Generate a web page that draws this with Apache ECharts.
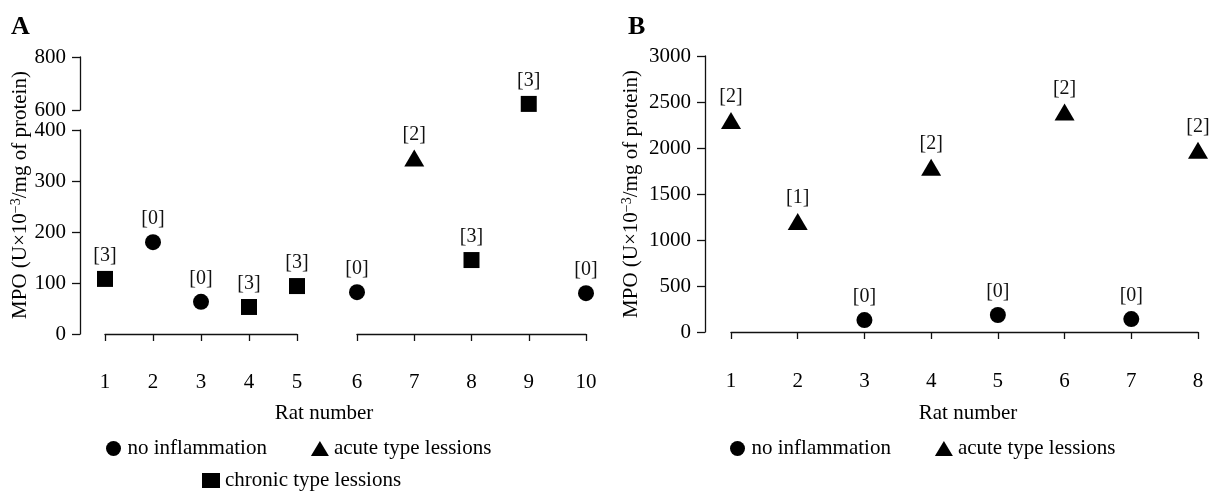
<!DOCTYPE html>
<html><head><meta charset="utf-8">
<script src="https://cdn.jsdelivr.net/npm/echarts@6/dist/echarts.min.js"></script>
<style>html,body{margin:0;padding:0;background:#fff}#c{width:1224px;height:493px}</style>
</head><body><div id="c"></div>
<script>
// ---- data: panel A ----
const ratsA  = [1, 2, 3, 4, 5, 6, 7, 8, 9, 10];
const mpoA   = [108, 180, 63, 53, 94, 82, 345, 145, 623, 80];
const typeA  = ['chronic','none','none','chronic','chronic','none','acute','chronic','chronic','none'];
const gradeA = ['[3]','[0]','[0]','[3]','[3]','[0]','[2]','[3]','[3]','[0]'];
// ---- data: panel B ----
const ratsB  = [1, 2, 3, 4, 5, 6, 7, 8];
const mpoB   = [2300, 1200, 130, 1790, 185, 2390, 140, 1975];
const typeB  = ['acute','acute','none','acute','none','acute','none','acute'];
const gradeB = ['[2]','[1]','[0]','[2]','[0]','[2]','[0]','[2]'];
// ---- names / axis ranges ----
const typeNames = {none:'no inflammation', acute:'acute type lessions', chronic:'chronic type lessions'};
const yTitle = 'MPO (U×10{sup|−3}/mg of protein)';
const xTitle = 'Rat number';
const yRangeALow = [0, 400, 100];
const yRangeAHigh = [600, 800, 200];
const yRangeB = [0, 3000, 500];
const xSegA1 = [1, 5];
const xSegA2 = [6, 10];
const xRangeB = [1, 8];

const F = 'Liberation Serif';
const INK = '#111';
const FS = 21;
const typeSymbols = {none:'circle', acute:'triangle', chronic:'rect'};
const typeSizes = {none:16, acute:[20,17], chronic:16};
const lineStyle = {color: INK, width: 1.3};

function yAx(grid, r, offset, show) {
  return {gridIndex:grid, type:'value', min:r[0], max:r[1], interval:r[2], offset:offset, show:show,
    axisLine:{show:true, lineStyle}, axisTick:{show:true, length:8, lineStyle},
    axisLabel:{fontFamily:F, fontSize:FS, color:'#000', margin:14, formatter:v=>String(v)}, splitLine:{show:false}};
}
function xAx(grid, r, offset, show) {
  return {gridIndex:grid, type:'value', position:'bottom', min:r[0], max:r[1], interval:1, offset:offset, show:show,
    axisLine:{show:true, lineStyle}, axisTick:{show:true, length:7, lineStyle},
    axisLabel:{fontFamily:F, fontSize:FS, color:'#000', margin:13, formatter:v=>String(v)}, splitLine:{show:false}};
}

const series = [];
function addSeries(type, idx, pts) {
  if (!pts.length) return;
  series.push({
    type:'scatter', name:typeNames[type], xAxisIndex:idx, yAxisIndex:idx, clip:false,
    symbol:typeSymbols[type], symbolSize:typeSizes[type], itemStyle:{color:'#000', opacity:1},
    label:{show:true, position:'top', distance:5, color:'#111', fontFamily:F, fontSize:20, lineHeight:20,
      formatter:p=>p.data.g},
    emphasis:{disabled:true},
    data: pts.map(p=>({value:[p.x,p.y], g:p.g}))
  });
}
['none','acute','chronic'].forEach(t=>{
  for (let gi=0; gi<3; gi++) {
    const pts = [];
    ratsA.forEach((r,i)=>{
      const g = r<=5 ? 0 : (mpoA[i]>=600 ? 2 : 1);
      if (g===gi && typeA[i]===t) pts.push({x:r, y:mpoA[i], g:gradeA[i]});
    });
    addSeries(t, gi, pts);
  }
  const pb = [];
  ratsB.forEach((r,i)=>{ if (typeB[i]===t) pb.push({x:r, y:mpoB[i], g:gradeB[i]}); });
  addSeries(t, 3, pb);
});

const legText = {fontFamily:F, fontSize:FS, color:'#000'};
function leg(items, left, top) {
  return {left, top, orient:'horizontal', itemWidth:18, itemHeight:15, itemGap:44, selectedMode:false,
    textStyle:legText, padding:0,
    data: items.map(t=>({name:typeNames[t], icon:typeSymbols[t], itemStyle:{color:'#000', opacity:1}}))};
}

function vTitle(x, y) {
  return {type:'text', x, y, rotation:Math.PI/2,
    style:{text:yTitle, fontFamily:F, fontSize:FS, fill:'#000', align:'center', verticalAlign:'middle',
      rich:{sup:{fontFamily:F, fontSize:14, verticalAlign:'top', fill:'#000'}}}};
}
function hText(x, y, txt, size, bold) {
  return {type:'text', x, y, style:{text:txt, fontFamily:F, fontSize:size, fontWeight:bold?'bold':'normal',
    fill:'#000', align: bold?'left':'center', verticalAlign:'middle'}};
}

const chart = echarts.init(document.getElementById('c'), null, {renderer:'canvas'});
chart.setOption({
  animation:false,
  backgroundColor:'#fff',
  grid:[
    {left:105, top:130, width:192, height:204, containLabel:false, outerBoundsMode:'none'},
    {left:357, top:130, width:229, height:204, containLabel:false, outerBoundsMode:'none'},
    {left:357, top:57,  width:229, height:53,  containLabel:false, outerBoundsMode:'none'},
    {left:731, top:56,  width:467, height:276, containLabel:false, outerBoundsMode:'none'}
  ],
  xAxis:[ xAx(0, xSegA1, 25, true), xAx(1, xSegA2, 25, true), xAx(2, xSegA2, 0, false), xAx(3, xRangeB, 26, true) ],
  yAxis:[ yAx(0, yRangeALow, 25, true), yAx(1, yRangeALow, 0, false), yAx(2, yRangeAHigh, 277, true), yAx(3, yRangeB, 26, true) ],
  legend:[
    leg(['none','acute'], 106, 438),
    leg(['chronic'], 202, 470),
    leg(['none','acute'], 730, 438)
  ],
  graphic:[
    hText(11, 27, 'A', 26, true),
    hText(628, 27, 'B', 26, true),
    vTitle(20, 195),
    vTitle(631, 194),
    hText(324, 413, xTitle, FS, false),
    hText(968, 413, xTitle, FS, false)
  ],
  series
});
</script>
</body></html>
